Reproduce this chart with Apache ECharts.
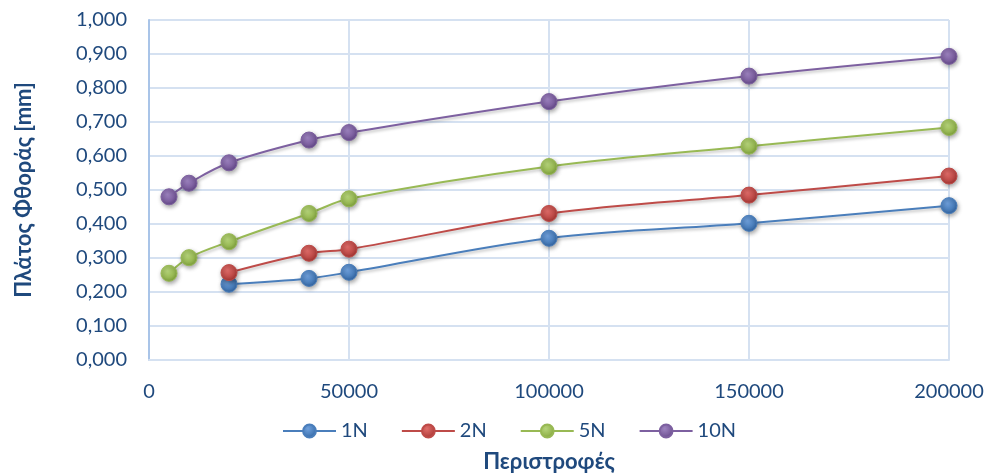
<!DOCTYPE html>
<html>
<head>
<meta charset="utf-8">
<script src="https://cdn.jsdelivr.net/npm/echarts@6/dist/echarts.min.js"></script>
<style>
  html, body { margin: 0; padding: 0; background: #ffffff; }
  #chart { width: 992px; height: 475px; }
</style>
</head>
<body>
<div id="chart"></div>
<script>
// Wear width (mm) versus number of revolutions, for each applied load
const seriesNames = ['1N', '2N', '5N', '10N'];

const rev1N = [20000, 40000, 50000, 100000, 150000, 200000];
const wear1N = [0.223, 0.240, 0.258, 0.358, 0.402, 0.454];

const rev2N = [20000, 40000, 50000, 100000, 150000, 200000];
const wear2N = [0.257, 0.314, 0.326, 0.431, 0.485, 0.541];

const rev5N = [5000, 10000, 20000, 40000, 50000, 100000, 150000, 200000];
const wear5N = [0.255, 0.301, 0.348, 0.431, 0.474, 0.569, 0.629, 0.684];

const rev10N = [5000, 10000, 20000, 40000, 50000, 100000, 150000, 200000];
const wear10N = [0.480, 0.520, 0.580, 0.647, 0.669, 0.760, 0.835, 0.893];

const xTicks = [0, 50000, 100000, 150000, 200000];
const yTicks = [0, 0.1, 0.2, 0.3, 0.4, 0.5, 0.6, 0.7, 0.8, 0.9, 1.0];

const revs = [rev1N, rev2N, rev5N, rev10N];
const wears = [wear1N, wear2N, wear5N, wear10N];

const lineColors = ['#4A7EBB', '#BE4B48', '#98B954', '#7D60A0'];
const markerLight = ['#6FA0DC', '#E06C69', '#B6D57A', '#9D83C0'];
const markerDark = ['#2C5D9A', '#9B2F2C', '#789A36', '#5C4382'];

const textColor = '#1F497D';
const font = 'Lato, "Open Sans", sans-serif';

function pairs(xs, ys) {
  return xs.map((x, i) => [x, ys[i]]);
}

function markerFill(i) {
  return {
    type: 'radial', x: 0.4, y: 0.35, r: 0.7,
    colorStops: [
      { offset: 0, color: markerLight[i] },
      { offset: 0.6, color: lineColors[i] },
      { offset: 1, color: markerDark[i] }
    ]
  };
}

const chart = echarts.init(document.getElementById('chart'), null, { renderer: 'canvas' });

chart.setOption({
  animation: false,
  backgroundColor: '#ffffff',
  grid: { left: 149, right: 43, top: 20, bottom: 115, containLabel: false, outerBoundsMode: 'none' },
  xAxis: {
    type: 'value',
    min: 0, max: 200000, interval: 50000,
    name: 'Περιστροφές',
    nameLocation: 'middle',
    nameGap: 91,
    nameTextStyle: { color: textColor, fontFamily: font, fontSize: 22, fontWeight: 'bold' },
    axisLine: { show: true, lineStyle: { color: '#D5E1F1', width: 2 } },
    axisTick: { show: false },
    splitLine: { show: true, lineStyle: { color: '#D5E1F1', width: 2 } },
    axisLabel: {
      color: textColor, fontFamily: font, fontSize: 20, margin: 22,
      formatter: v => xTicks.includes(v) ? String(v) : ''
    }
  },
  yAxis: {
    type: 'value',
    min: 0, max: 1, interval: 0.1,
    name: 'Πλάτος Φθοράς [mm]',
    nameLocation: 'middle',
    nameGap: 114,
    nameRotate: 90,
    nameTextStyle: { color: textColor, fontFamily: font, fontSize: 22, fontWeight: 'bold' },
    axisLine: { show: true, lineStyle: { color: '#A9C4E8', width: 2 } },
    axisTick: { show: false },
    splitLine: { show: true, lineStyle: { color: '#D5E1F1', width: 2 } },
    axisLabel: {
      color: textColor, fontFamily: font, fontSize: 20, margin: 22,
      formatter: v => {
        const t = yTicks.find(k => Math.abs(k - v) < 1e-9);
        return t === undefined ? '' : t.toFixed(3).replace('.', ',');
      }
    }
  },
  legend: {
    data: seriesNames,
    left: 277,
    top: 416,
    itemWidth: 53,
    itemHeight: 16,
    itemGap: 33,
    textStyle: { color: textColor, fontFamily: font, fontSize: 20 }
  },
  series: seriesNames.map((name, i) => ({
    name: name,
    type: 'line',
    smooth: 0.35,
    data: pairs(revs[i], wears[i]),
    symbol: 'circle',
    symbolSize: 16,
    lineStyle: {
      color: lineColors[i], width: 2,
      shadowColor: 'rgba(0,0,0,0.25)', shadowBlur: 3, shadowOffsetX: 1, shadowOffsetY: 2
    },
    itemStyle: {
      color: markerFill(i),
      borderColor: lineColors[i],
      borderWidth: 1,
      shadowColor: 'rgba(0,0,0,0.35)', shadowBlur: 4, shadowOffsetX: 1, shadowOffsetY: 2
    },
    emphasis: { disabled: true }
  }))
});
</script>
</body>
</html>
